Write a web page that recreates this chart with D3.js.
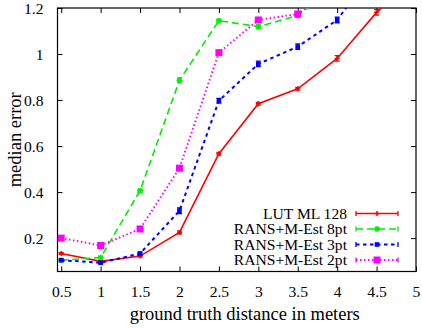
<!DOCTYPE html>
<html>
<head>
<meta charset="utf-8">
<script src="https://cdn.jsdelivr.net/npm/d3@7"></script>
<style>
html,body{margin:0;padding:0;background:#fff;}
svg text{font-family:"Liberation Serif","Times New Roman",serif;}
</style>
</head>
<body>
<svg id="chart" width="422" height="328"></svg>
<script>
const distances = [0.5, 1, 1.5, 2, 2.5, 3, 3.5, 4, 4.5, 5];
const seriesNames = ["LUT ML 128", "RANS+M-Est 8pt", "RANS+M-Est 3pt", "RANS+M-Est 2pt"];
const lutML128 = [0.133, 0.099, 0.122, 0.225, 0.567, 0.784, 0.849, 0.981, 1.181, 1.33];
const ransac8pt = [0.104, 0.116, 0.406, 0.886, 1.145, 1.119, 1.167, 1.30, 1.40, 1.45];
const ransac3pt = [0.104, 0.093, 0.133, 0.319, 0.797, 0.957, 1.032, 1.148, 1.38, 1.45];
const ransac2pt = [0.200, 0.168, 0.240, 0.504, 1.006, 1.148, 1.174, 1.30, 1.40, 1.45];
const errLUT = [0.004, 0.004, 0.004, 0.006, 0.006, 0.006, 0.006, 0.012, 0.012, 0.012];
const err8pt = [0.004, 0.004, 0.006, 0.010, 0.006, 0.008, 0.006, 0.01, 0.01, 0.01];
const err3pt = [0.004, 0.004, 0.006, 0.012, 0.010, 0.012, 0.012, 0.012, 0.012, 0.012];
const err2pt = [0.004, 0.004, 0.006, 0.008, 0.008, 0.006, 0.006, 0.006, 0.006, 0.006];
const xTicks = [0.5, 1, 1.5, 2, 2.5, 3, 3.5, 4, 4.5, 5];
const yTicks = [0.2, 0.4, 0.6, 0.8, 1, 1.2];

const colors = ["#ff0000", "#00ee00", "#0000ff", "#ff00ff"];
const dashes = [null, "7,4", "3.5,3.5", "1.5,2.5"];
const widths = [1.6, 1.6, 2.0, 2.0];
const markers = ["plus", "star", "smallsq", "sq"];
const values = [lutML128, ransac8pt, ransac3pt, ransac2pt];
const errors = [errLUT, err8pt, err3pt, err2pt];

const svg = d3.select("#chart");
const L = 57.5, R = 416, T = 8, B = 271.5;
const x = d3.scaleLinear().domain([0.453, 5]).range([L, R]);
const y = d3.scaleLinear().domain([0.055, 1.2]).range([B, T]);

svg.append("defs").append("clipPath").attr("id", "clip")
  .append("rect").attr("x", L).attr("y", T).attr("width", R - L).attr("height", B - T);

const fs = 15.6;
const fsTitle = 18.5;
// axes with inward ticks
const axB = svg.append("g").attr("transform", `translate(0,${B})`)
  .call(d3.axisBottom(x).tickValues(xTicks).tickSizeInner(-5).tickSizeOuter(0).tickPadding(14).tickFormat(d3.format("")));
const axT = svg.append("g").attr("transform", `translate(0,${T})`)
  .call(d3.axisTop(x).tickValues(xTicks).tickSizeInner(-5).tickSizeOuter(0).tickFormat(""));
const axL = svg.append("g").attr("transform", `translate(${L},0)`)
  .call(d3.axisLeft(y).tickValues(yTicks).tickSizeInner(-5).tickSizeOuter(0).tickPadding(14).tickFormat(d3.format("")));
const axR = svg.append("g").attr("transform", `translate(${R},0)`)
  .call(d3.axisRight(y).tickValues(yTicks).tickSizeInner(-5).tickSizeOuter(0).tickFormat(""));
[axB, axT, axL, axR].forEach(g => {
  g.select(".domain").remove();
  g.selectAll("line").attr("stroke", "#000").attr("stroke-width", 1);
  g.selectAll("text").attr("font-size", fs).attr("font-family", "Liberation Serif").attr("fill", "#000");
});
axB.selectAll(".tick text").attr("dy", "0.71em");

svg.append("rect").attr("x", L).attr("y", T).attr("width", R - L).attr("height", B - T)
  .attr("fill", "none").attr("stroke", "#000").attr("stroke-width", 1.2);

function drawMarker(g, type, cx, cy, color) {
  if (type === "plus") {
    g.append("path").attr("d", `M${cx-2.5},${cy}H${cx+2.5}M${cx},${cy-2.5}V${cy+2.5}`)
      .attr("stroke", color).attr("stroke-width", 1.5);
  } else if (type === "star") {
    g.append("path").attr("d", `M${cx-3},${cy}H${cx+3}M${cx},${cy-3}V${cy+3}M${cx-2.2},${cy-2.2}L${cx+2.2},${cy+2.2}M${cx-2.2},${cy+2.2}L${cx+2.2},${cy-2.2}`)
      .attr("stroke", color).attr("stroke-width", 1.3);
  } else if (type === "smallsq") {
    g.append("rect").attr("x", cx - 2.3).attr("y", cy - 2.3).attr("width", 4.6).attr("height", 4.6).attr("fill", color);
  } else {
    g.append("rect").attr("x", cx - 3.5).attr("y", cy - 3.5).attr("width", 7).attr("height", 7).attr("fill", color);
  }
}

const plot = svg.append("g").attr("clip-path", "url(#clip)");
const line = d3.line().x((d, i) => x(distances[i])).y(d => y(d));
values.forEach((vals, s) => {
  const g = plot.append("g");
  g.append("path").datum(vals).attr("d", line).attr("fill", "none")
    .attr("stroke", colors[s]).attr("stroke-width", widths[s])
    .attr("stroke-dasharray", dashes[s]);
  vals.forEach((v, i) => {
    const cx = x(distances[i]), e = errors[s][i];
    const y1 = y(v - e), y2 = y(v + e);
    g.append("path").attr("d", `M${cx},${y1}V${y2}M${cx-2.5},${y1}H${cx+2.5}M${cx-2.5},${y2}H${cx+2.5}`)
      .attr("stroke", colors[s]).attr("stroke-width", 1.3).attr("fill", "none");
    drawMarker(g, markers[s], cx, y(v), colors[s]);
  });
});

// legend
const legY = [213.5, 229, 244.5, 260];
seriesNames.forEach((name, s) => {
  const ly = legY[s];
  svg.append("text").attr("x", 347).attr("y", ly).attr("dy", "0.35em")
    .attr("text-anchor", "end").attr("font-size", fs).text(name);
  svg.append("path").attr("d", `M356,${ly}H398`).attr("stroke", colors[s])
    .attr("stroke-width", widths[s]).attr("stroke-dasharray", dashes[s]).attr("fill", "none");
  svg.append("path").attr("d", `M356,${ly-2.5}V${ly+2.5}M398,${ly-2.5}V${ly+2.5}`)
    .attr("stroke", colors[s]).attr("stroke-width", 1.3);
  drawMarker(svg, markers[s], 377, ly, colors[s]);
});

// axis titles
svg.append("text").attr("x", (L + R) / 2 + 8).attr("y", 320).attr("text-anchor", "middle")
  .attr("font-size", fsTitle).text("ground truth distance in meters");
svg.append("text").attr("transform", `translate(21,${(T + B) / 2}) rotate(-90)`)
  .attr("text-anchor", "middle").attr("font-size", fsTitle).text("median error");
</script>
</body>
</html>
